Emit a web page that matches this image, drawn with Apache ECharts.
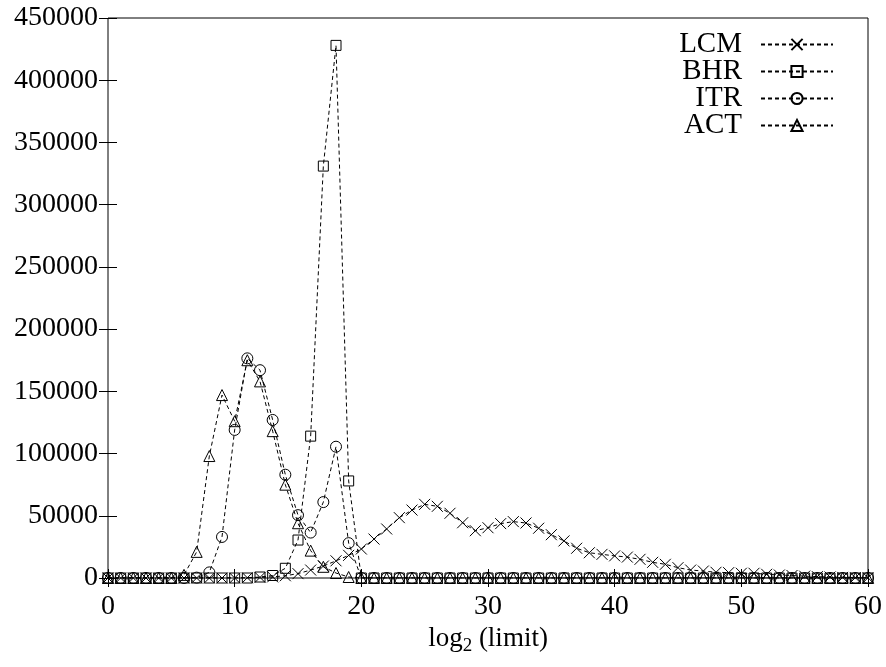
<!DOCTYPE html>
<html>
<head>
<meta charset="utf-8">
<script src="https://cdn.jsdelivr.net/npm/echarts@6/dist/echarts.min.js"></script>
<style>
  html, body { margin: 0; padding: 0; background: #fff; }
  #main { width: 886px; height: 667px; }
</style>
</head>
<body>
<div id="main"></div>
<script>
        // x values: log2(limit)
        var xValues = [0, 1, 2, 3, 4, 5, 6, 7, 8, 9,
            10, 11, 12, 13, 14, 15, 16, 17, 18, 19,
            20, 21, 22, 23, 24, 25, 26, 27, 28, 29,
            30, 31, 32, 33, 34, 35, 36, 37, 38, 39,
            40, 41, 42, 43, 44, 45, 46, 47, 48, 49,
            50, 51, 52, 53, 54, 55, 56, 57, 58, 59, 60];

        var lcmData = [0, 0, 0, 0, 0, 0, 0, 0, 0, 0,
            0, 200, 500, 900, 1800, 3500, 6400, 9600, 13800, 18200,
            23300, 31300, 39400, 48500, 54600, 59200, 57600, 52000, 44400, 38000,
            40400, 43700, 45300, 44200, 40000, 34800, 29800, 23900, 20300, 19000,
            17800, 16800, 15000, 12600, 11000, 8300, 6400, 5600, 4600, 4300,
            3800, 3800, 3000, 2400, 2000, 1500, 1100, 800, 500, 300, 200];

        var bhrData = [0, 0, 0, 0, 0, 0, 0, 0, 0, 0,
            0, 0, 800, 2000, 7800, 30500, 114000, 331000, 428000, 78000,
            0, 0, 0, 0, 0, 0, 0, 0, 0, 0,
            0, 0, 0, 0, 0, 0, 0, 0, 0, 0,
            0, 0, 0, 0, 0, 0, 0, 0, 0, 0,
            0, 0, 0, 0, 0, 0, 0, 0, 0, 0, 0];

        var itrData = [0, 0, 0, 0, 0, 0, 0, 300, 4500, 33000,
            119000, 176500, 167000, 127000, 83000, 50500, 36500, 61000, 105500, 28000,
            0, 0, 0, 0, 0, 0, 0, 0, 0, 0,
            0, 0, 0, 0, 0, 0, 0, 0, 0, 0,
            0, 0, 0, 0, 0, 0, 0, 0, 0, 0,
            0, 0, 0, 0, 0, 0, 0, 0, 0, 0, 0];

        var actData = [0, 0, 0, 0, 0, 0, 2500, 21000, 98000, 147000,
            126000, 175000, 158000, 118000, 75000, 44000, 22000, 9000, 4000, 800,
            0, 0, 0, 0, 0, 0, 0, 0, 0, 0,
            0, 0, 0, 0, 0, 0, 0, 0, 0, 0,
            0, 0, 0, 0, 0, 0, 0, 0, 0, 0,
            0, 0, 0, 0, 0, 0, 0, 0, 0, 0, 0];

        var seriesNames = ['LCM', 'BHR', 'ITR', 'ACT'];

        function pairs(ys) {
            return xValues.map(function (x, i) { return [x, ys[i]]; });
        }

        var FONT = 'Liberation Serif';
        var crossPath = 'path://M0,0L10,10M10,0L0,10';

        function plain(v) { return String(v); }

        function makeSeries(name, ys, symbol, size) {
            return {
                name: name,
                type: 'line',
                data: pairs(ys),
                symbol: symbol,
                symbolSize: size,
                showAllSymbol: true,
                animation: false,
                lineStyle: { color: '#000', width: 1, type: [4, 3] },
                itemStyle: { color: 'transparent', borderColor: '#000', borderWidth: 1 },
                emphasis: { disabled: true }
            };
        }

        function makeLegend(name, top) {
            return {
                data: [name],
                orient: 'vertical',
                right: 47,
                top: top,
                align: 'right',
                itemWidth: 72,
                itemHeight: 14,
                selectedMode: false,
                textStyle: { fontFamily: FONT, fontSize: 29, color: '#000', padding: [0, 14, 0, 0] }
            };
        }

        var myChart = echarts.init(document.getElementById('main'));

        var option = {
            backgroundColor: '#fff',
            animation: false,
            grid: {
                left: 108, right: 18, top: 18, bottom: 89,
                show: true, borderColor: '#000', borderWidth: 1, backgroundColor: 'transparent'
            },
            legend: [
                makeLegend('LCM', 25),
                makeLegend('BHR', 52),
                makeLegend('ITR', 79),
                makeLegend('ACT', 106)
            ],
            xAxis: [{
                type: 'value',
                min: 0, max: 60, interval: 10,
                name: '{a|log}{b|2}{a| (limit)}',
                nameLocation: 'middle',
                nameGap: 34,
                nameTextStyle: {
                    rich: {
                        a: { fontFamily: FONT, fontSize: 27, color: '#000' },
                        b: { fontFamily: FONT, fontSize: 19, color: '#000', padding: [14, 0, 0, 0] }
                    }
                },
                axisLine: { show: false },
                axisTick: { inside: true, length: 9, lineStyle: { color: '#000' } },
                axisLabel: { fontFamily: FONT, fontSize: 28, color: '#000', margin: 15, formatter: plain },
                splitLine: { show: false }
            }, {
                type: 'value',
                position: 'top',
                min: 0, max: 60, interval: 10,
                axisLine: { show: false },
                axisTick: { inside: true, length: 9, lineStyle: { color: '#000' } },
                axisLabel: { show: false },
                splitLine: { show: false }
            }],
            yAxis: [{
                type: 'value',
                min: 0, max: 450000, interval: 50000,
                axisLine: { show: false },
                axisTick: { inside: true, length: 9, lineStyle: { color: '#000' } },
                axisLabel: { fontFamily: FONT, fontSize: 28, color: '#000', margin: 10, formatter: plain },
                splitLine: { show: false }
            }, {
                type: 'value',
                position: 'right',
                min: 0, max: 450000, interval: 50000,
                axisLine: { show: false },
                axisTick: { inside: true, length: 9, lineStyle: { color: '#000' } },
                axisLabel: { show: false },
                splitLine: { show: false }
            }],
            series: [
                makeSeries(seriesNames[0], lcmData, crossPath, 11),
                makeSeries(seriesNames[1], bhrData, 'rect', 10),
                makeSeries(seriesNames[2], itrData, 'circle', 11),
                makeSeries(seriesNames[3], actData, 'triangle', 11)
            ]
        };

        myChart.setOption(option);
</script>
</body>
</html>
